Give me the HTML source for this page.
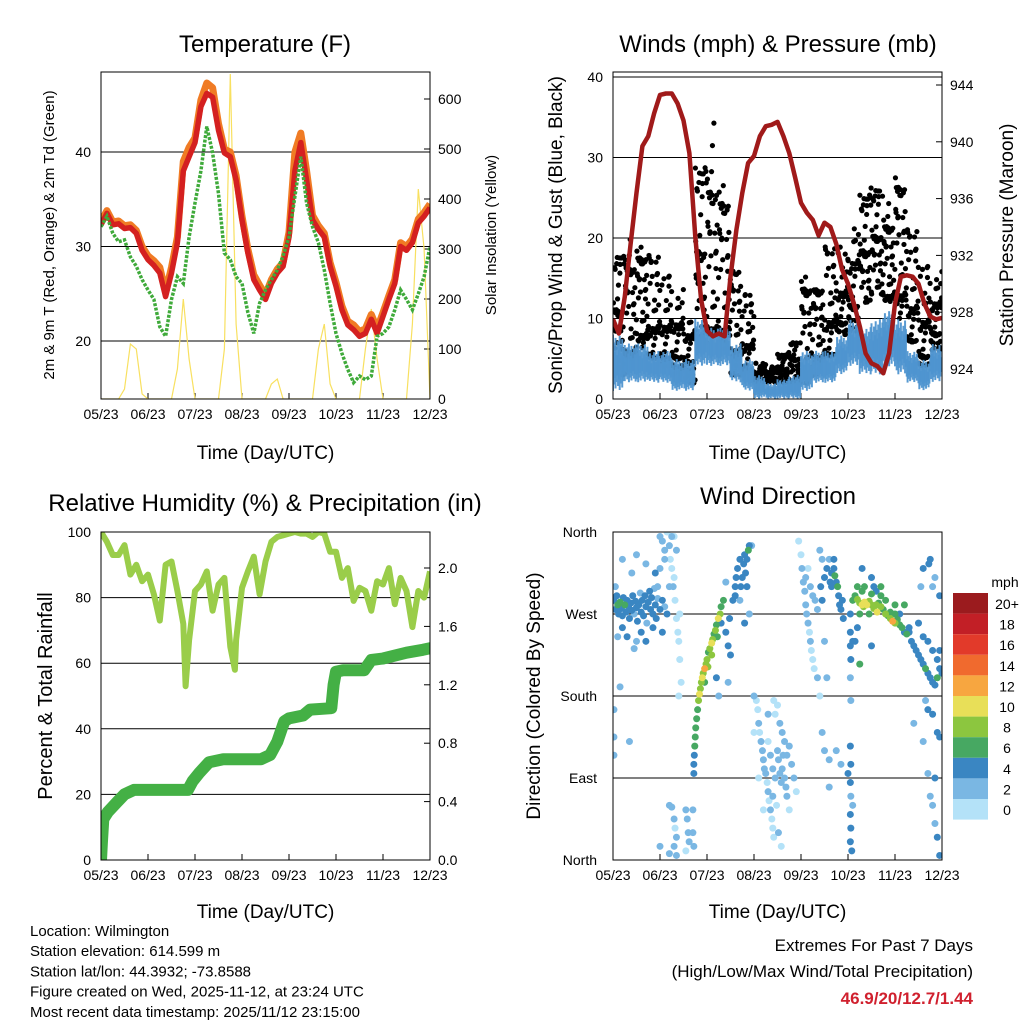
<!DOCTYPE html>
<html><head><meta charset="utf-8"><style>
body{margin:0;background:#fff}
svg{display:block;font-family:"Liberation Sans",sans-serif}
</style></head><body>
<svg id="c" width="1024" height="1024" viewBox="0 0 1024 1024" xmlns="http://www.w3.org/2000/svg"></svg>
<script>
// ---------- data ----------
const dayLabels=["05/23","06/23","07/23","08/23","09/23","10/23","11/23","12/23"];
const tempRed=[32.3,33.5,32.3,32.4,31.9,32,31.4,29.6,28.6,28,27.2,24.7,27.2,30.4,38,39.5,41,44.8,46.2,45.8,42.3,39.9,39.5,37,32.8,29.3,26.5,25.4,24.4,26.1,27.2,27.9,31,38,41,37,32.8,31.8,31,27.9,25.8,23.3,21.7,21.2,20.5,20.8,22.3,20.8,22.6,24.4,26.1,30,29.6,30.4,32.5,33.2,34.1];
const tempOrange=[32.6,33.8,32.6,32.7,32.2,32.3,31.7,30,29,28.5,27.8,25.2,27.8,31,39,40.5,41.5,45.5,47.3,46.8,43,40.3,40,37.5,33.2,29.7,27,25.9,24.9,26.5,27.6,28.3,31.5,40,42,38,33.3,32.2,31.4,28.3,26.2,23.7,22.1,21.7,21,21.3,22.8,21.3,23,24.8,26.5,30.4,30,30.8,32.9,33.6,34.5];
const dewGreen=[32.1,33.2,31.4,30.5,30.7,28.9,27.9,26.5,25.4,24.4,21.5,20.5,24.4,26.8,26.1,31,34.6,38,42.7,39.9,35.6,29.3,28.6,26.8,26.1,23,20.8,24,25.4,26.5,27.5,29,31,35.3,39.5,34.6,32.1,30.4,27.5,24,20.8,18.7,17,15.6,16.3,15.9,16.3,20.5,20.8,21.5,23.3,25.4,24.4,23.3,25,26.8,30];
const solar=[0,0,0,0,20,110,100,10,0,0,0,0,0,60,200,80,0,0,0,0,0,100,650,150,0,0,0,0,0,30,40,0,0,0,0,0,0,100,150,30,0,0,0,0,0,100,180,80,0,0,0,0,0,150,420,300,0];
const pressure=[927.5,926.5,929.1,932.8,936.4,939.7,940.4,942,943.3,943.4,943.4,942.7,941.5,939.2,933.3,928.9,926.7,926.3,926.5,926.3,930.5,933.8,936.4,938.5,939,940.4,941.1,941.2,941.4,940.4,939.2,937.5,935.7,935,934.5,933.4,934.3,934,932.8,931,930,928.6,927,925.1,924.4,924.2,923.7,925.1,928.6,930.5,930.6,930.5,930,928.6,927.7,927.5,927.6];
const gustLo=[3,5,6,5,4,3,2,7,8,6,3,3,2,2,2,2,2,3,5,8,8,12,13,12,10,7,4,6];
const gustHi=[18,21,19,19,16,14,10,30,35,28,16,13,4.5,4,6,7,17,14,19,19,22,28,26,25,28,22,17,16];
const sonicLo=[1,2,2,2,2,1,1,4,4,4,2,1,0,0,0,0,1,2,2,3,4,3,3,4,3,2,1,2];
const sonicHi=[8,7,7,6,6,5,5,10,9,9,7,5,3,2,2.5,3,6,6,6,8,10,9,10,11,10,6,5,7];
const rhT=[0,0.125,0.25,0.375,0.5,0.625,0.75,0.875,1,1.125,1.25,1.375,1.5,1.625,1.75,1.8,1.875,2,2.125,2.25,2.375,2.5,2.625,2.75,2.85,2.875,3,3.125,3.25,3.375,3.5,3.625,3.75,3.875,4,4.125,4.25,4.375,4.5,4.625,4.75,4.875,5,5.125,5.25,5.375,5.5,5.625,5.75,5.875,6,6.125,6.25,6.375,6.5,6.625,6.75,6.875,7];
const rh=[100,97,93,93,96,87,90,85,87,81,73,90,91,82,72,53,67,82,84,88,76,84,86,65,58,67,83,88,92.5,81,91,97,98.5,99,99.5,100,99.5,99.5,98.5,100,99.5,94,94,86,89,79,83,82,76,85,84,89,78,86,82,71,82,80,88];
const precipT=[0,0.02,0.05,0.15,0.35,0.5,0.7,1,1.5,1.85,1.95,2.1,2.3,2.6,3,3.4,3.6,3.75,3.9,4,4.3,4.45,4.9,4.95,5,5.15,5.6,5.75,6,6.5,6.85,7];
const precipV=[0,0.12,0.28,0.33,0.4,0.45,0.48,0.48,0.48,0.48,0.54,0.6,0.67,0.69,0.69,0.69,0.72,0.81,0.95,0.97,0.99,1.03,1.04,1.2,1.29,1.3,1.3,1.37,1.38,1.42,1.44,1.45];
// wind direction observations: [day, degrees, mph]
const dirObs=[
[0.02,285,4],[0.05,275,5],[0.08,290,4],[0.1,280,6],[0.12,270,5],[0.15,283,7],[0.18,276,5],[0.2,268,4],[0.22,288,5],[0.25,280,6],[0.28,272,4],[0.3,285,5],[0.33,278,4],[0.35,265,4],[0.38,282,5],[0.4,274,4],[0.42,290,4],[0.45,270,3],[0.48,284,4],[0.5,277,5],[0.52,262,4],[0.55,280,4],[0.58,293,3],[0.6,272,4],[0.62,285,4],[0.65,268,5],[0.68,290,4],[0.7,278,4],[0.72,260,3],[0.75,283,4],[0.78,295,4],[0.8,275,5],[0.82,288,4],[0.85,270,4],[0.88,298,3],[0.9,280,4],[0.92,265,4],[0.95,287,3],[1.0,275,5],[1.05,285,4],[1.1,278,3],[1.15,270,4],[0.05,300,2],[0.1,245,3],[0.2,255,4],[0.3,245,4],[0.45,232,3],[0.6,250,4],[0.7,240,4],[0.85,255,4],[0.95,300,3],[1.0,320,3],[0.4,315,2],[0.7,325,3],[0.2,330,2],[0.5,335,3],[0.15,190,3],[0.5,240,3],[0.9,315,4],[1.1,330,2],[1.05,250,4],[0.02,165,2],[0.02,135,2],[0.02,115,2],[0.35,130,2],
[1.0,355,2],[1.05,350,2],[1.1,340,2],[1.15,360,1],[1.2,345,2],[1.22,330,1],[1.25,320,1],[1.28,300,2],[1.3,310,1],[1.32,285,1],[1.35,265,1],[1.38,250,1],[1.4,240,1],[1.42,220,1],[1.35,340,2],[1.25,355,2],[1.3,355,1],[1.2,300,2],[1.42,270,1],[1.45,195,1],[1.4,180,1],[1.2,60,2],[1.25,58,2],[1.3,45,2],[1.32,35,1],[1.35,25,2],[1.3,15,2],[1.35,5,2],[1.0,15,3],[1.55,55,2],[1.58,45,2],[1.6,30,2],[1.62,20,2],[1.55,10,1],[1.2,7,2],[1.7,30,2],[1.72,15,3],[1.7,55,3],
[1.72,95,4],[1.72,105,4],[1.73,115,4],[1.74,125,6],[1.75,135,6],[1.76,145,6],[1.78,155,7],[1.8,165,7],[1.82,175,8],[1.84,182,10],[1.86,188,9],[1.88,195,8],[1.9,200,10],[1.92,205,8],[1.95,210,12],[1.98,215,9],[2.0,220,8],[2.03,228,7],[2.06,232,9],[2.1,238,10],[2.12,242,8],[2.15,248,7],[2.18,252,8],[2.2,258,7],[2.24,265,10],[2.28,270,8],[2.3,278,7],[2.35,285,6],[2.02,212,8],[1.95,195,7],[2.1,225,8],[2.22,245,6],[2.3,260,5],[2.4,250,4],[2.45,235,5],[2.5,225,4],[2.48,265,4],[2.55,285,4],[2.6,300,4],[2.62,310,5],[2.65,320,5],[2.7,330,4],[2.72,300,4],[2.75,310,5],[2.78,325,4],[2.8,335,5],[2.82,315,4],[2.85,330,4],[2.88,340,6],[2.9,345,4],[2.85,300,4],[2.6,290,5],[2.7,285,3],[2.8,260,4],[2.9,270,3],[2.95,345,2],[2.4,305,3],[2.2,200,4],[2.25,180,3],[2.45,195,3],
[3.0,180,2],[3.05,175,1],[3.08,165,1],[3.1,150,2],[3.12,140,1],[3.15,130,2],[3.18,120,2],[3.2,110,2],[3.22,100,3],[3.25,95,2],[3.28,85,1],[3.3,75,2],[3.32,65,1],[3.35,55,2],[3.38,45,1],[3.4,35,1],[3.42,25,1],[3.3,130,1],[3.35,115,2],[3.4,100,2],[3.45,90,3],[3.5,120,2],[3.52,110,2],[3.55,95,2],[3.58,85,3],[3.6,100,2],[3.62,115,3],[3.65,90,2],[3.68,80,2],[3.7,70,2],[3.5,170,1],[3.55,150,2],[3.6,140,2],[3.45,160,1],[3.48,60,1],[3.52,30,2],[3.58,15,1],[3.42,175,1],[3.75,125,2],[3.8,105,2],[3.85,90,2],[3.9,75,1],[3.75,55,1],[3.2,55,1],[3.3,160,2],[3.4,70,2],[3.65,130,3],[3.7,115,3],[3.1,90,1],[3.0,140,1],
[3.95,350,1],[4.0,335,1],[4.02,320,2],[4.05,305,2],[4.08,295,2],[4.1,280,2],[4.12,270,2],[4.15,260,2],[4.18,250,1],[4.2,240,2],[4.22,230,1],[4.25,220,1],[4.28,210,1],[4.1,310,2],[4.15,320,1],[4.2,300,2],[4.25,290,2],[4.3,285,2],[4.35,275,3],[4.4,340,2],[4.45,330,2],[4.42,300,4],[4.45,285,4],[4.5,310,4],[4.55,320,4],[4.6,330,3],[4.62,305,4],[4.65,315,4],[4.35,200,2],[4.4,180,1],[4.5,240,3],[4.55,200,2],[4.45,140,2],[4.5,120,2],[4.6,110,3],[4.6,80,2],[4.75,120,3],[4.85,105,3],
[4.7,320,5],[4.72,312,6],[4.75,305,5],[4.78,300,6],[4.8,290,5],[4.82,280,4],[4.85,275,4],[4.88,285,5],[4.7,330,4],[4.65,300,4],[4.9,265,5],
[5.05,270,4],[5.05,250,4],[5.05,235,4],[5.06,220,4],[5.05,200,3],[5.06,175,3],[5.05,125,4],[5.06,105,4],[5.05,85,4],[5.06,70,3],[5.05,50,4],[5.06,35,4],[5.05,20,4],[5.08,10,4],[5.1,60,3],[5.0,95,4],[5.1,240,4],
[5.1,285,6],[5.15,290,7],[5.2,286,8],[5.25,282,8],[5.3,280,10],[5.33,278,9],[5.35,283,11],[5.4,280,10],[5.45,284,8],[5.5,280,8],[5.55,276,9],[5.6,280,8],[5.62,272,10],[5.65,282,7],[5.7,278,8],[5.75,275,7],[5.8,270,8],[5.85,268,7],[5.9,265,9],[5.95,262,12],[6.0,260,8],[6.05,264,7],[6.1,258,6],[6.15,255,6],[6.2,250,5],[6.25,248,6],[6.3,255,5],[5.3,295,6],[5.5,292,7],[5.7,290,6],[5.9,272,6],[6.0,270,7],[5.25,270,6],[5.45,270,6],[5.2,300,6],[5.35,300,6],[5.6,295,5],[5.8,285,6],[6.1,270,5],[5.15,240,4],[5.25,215,6],[5.5,235,4],[5.55,300,5],[5.2,255,4],[5.3,320,4],[5.5,310,5],[5.7,300,6],[6.0,280,6],[6.2,280,6],
[6.3,250,4],[6.35,240,4],[6.4,235,5],[6.45,230,4],[6.5,225,4],[6.55,220,5],[6.6,215,4],[6.65,210,6],[6.7,205,4],[6.75,200,5],[6.8,195,4],[6.85,192,4],[6.9,200,6],[6.95,210,5],[7.0,205,4],[6.5,260,4],[6.6,245,4],[6.7,240,5],[6.8,230,4],[6.9,220,5],[6.95,230,4],[6.75,330,4],[6.72,325,4],[6.8,300,3],[6.55,300,3],[6.85,310,2],[6.6,320,4],[6.95,290,4],[6.65,175,2],[6.7,165,4],[6.8,160,4],[6.9,140,4],[6.95,135,4],[6.7,95,2],[6.75,70,3],[6.8,60,3],[6.85,40,3],[6.9,25,4],[6.95,5,4],[6.85,90,4],[6.4,150,3],[6.6,130,2]
];
const dirT=dirObs.map(p=>p[0]);
const dirD=dirObs.map(p=>p[1]);
const dirS=dirObs.map(p=>p[2]);
const speedLabels=["20+","18","16","14","12","10","8","6","4","2","0"];
const speedColors=["#9b1b1e","#c21f26","#e23a2a","#f06a2e","#f7a640","#e8df58","#8cc63f","#47a862","#3a86c2","#7ab7e3","#b4e2f8"];

// ---------- helpers ----------
const svg=document.getElementById('c');
const NS="http://www.w3.org/2000/svg";
function el(tag,attrs,parent){const e=document.createElementNS(NS,tag);for(const k in attrs)e.setAttribute(k,attrs[k]);(parent||svg).appendChild(e);return e;}
function txt(s,x,y,size,anchor,parent,extra){const t=el('text',Object.assign({x:x,y:y,'font-size':size,'text-anchor':anchor||'middle',fill:'#000'},extra||{}),parent);t.textContent=s;return t;}
function lin(x0,x1,v0,v1){return v=>x0+(v-v0)*(x1-x0)/(v1-v0);}
function colorFor(s){let i=Math.min(10,Math.floor(s/2));return speedColors[10-i];}
function frame(g,L,T,R,B){el('rect',{x:L,y:T,width:R-L,height:B-T,fill:'none',stroke:'#000','stroke-width':1},g);}
function xAxis(g,L,R,B,y){
  const xs=lin(L,R,0,7);
  dayLabels.forEach((d,i)=>{
    const x=xs(i);
    el('line',{x1:x,y1:B,x2:x,y2:B-6,stroke:'#000'},g);
    const t=txt(d,x,B+20,14,'middle',g);
    
    
  });
  const at=txt("Time (Day/UTC)",(L+R)/2,y,19,'middle',g);
  
  
  return xs;
}
function clipFor(id,L,T,R,B){const cp=el('clipPath',{id:id});el('rect',{x:L,y:T,width:R-L,height:B-T},cp);return 'url(#'+id+')';}
function pathFrom(xs,ys,xv,yv){return xv.map((t,i)=>(i?'L':'M')+xs(t).toFixed(1)+','+ys(yv[i]).toFixed(1)).join('');}
const step=(n,s)=>Array.from({length:n},(_,i)=>i*s);

// ================= Panel 1: Temperature =================
{
const g=el('g',{});


const L=101,R=430,T=72,B=399;
const ys=lin(341,152,20,40), ysol=lin(399,349,0,100);
const cl=clipFor('c1',L,T,R,B);
const title=txt("Temperature (F)",265,52,24,'middle',g);

[20,30,40].forEach(v=>{el('line',{x1:L,x2:R,y1:ys(v),y2:ys(v),stroke:'#000'},g);const t=txt(v,L-10,ys(v)+5,14,'end',g);});
[0,100,200,300,400,500,600].forEach(v=>{el('line',{x1:R,x2:R-6,y1:ysol(v),y2:ysol(v),stroke:'#000'},g);const t=txt(v,R+8,ysol(v)+5,14,'start',g);});
const xs=xAxis(g,L,R,B,459);
const tq=step(57,0.125);
const sol=el('path',{d:pathFrom(xs,ysol,step(solar.length,0.125),solar),fill:'none',stroke:'#f8e060','stroke-width':1.2,'clip-path':cl},g);

const or=el('path',{d:pathFrom(xs,ys,tq,tempOrange),fill:'none',stroke:'#f07b24','stroke-width':7,'stroke-linejoin':'round','clip-path':cl},g);

const rd=el('path',{d:pathFrom(xs,ys,tq,tempRed),fill:'none',stroke:'#d42020','stroke-width':5.5,'stroke-linejoin':'round','clip-path':cl},g);

const gr=el('path',{d:pathFrom(xs,ys,tq,dewGreen),fill:'none',stroke:'#3faa3a','stroke-width':3.5,'stroke-dasharray':'3 1.5','clip-path':cl},g);

frame(g,L,T,R,B);
const yl=txt("2m & 9m T (Red, Orange) & 2m Td (Green)",0,0,15,'middle',g,{transform:'translate(54,235) rotate(-90)'});

const yr=txt("Solar Insolation (Yellow)",0,0,15,'middle',g,{transform:'translate(496,235) rotate(-90)'});

}

// ================= Panel 2: Winds & Pressure =================
{
const g=el('g',{});


const L=613,R=942,T=72,B=399;
const ys=lin(399,77,0,40), yp=lin(369,85,924,944);
const cl=clipFor('c2',L,T,R,B);
const title=txt("Winds (mph) & Pressure (mb)",778,52,24,'middle',g);

[0,10,20,30,40].forEach(v=>{el('line',{x1:L,x2:R,y1:ys(v),y2:ys(v),stroke:'#000'},g);const t=txt(v,L-10,ys(v)+5,14,'end',g);});
[924,928,932,936,940,944].forEach(v=>{el('line',{x1:R,x2:R-6,y1:yp(v),y2:yp(v),stroke:'#000'},g);const t=txt(v,R+8,yp(v)+5,14,'start',g);});
const xs=xAxis(g,L,R,B,459);
const gg=el('g',{'clip-path':cl},g);

gustLo.forEach((lo,i)=>{
  const hi=gustHi[i];
  for(let k=0;k<40;k++){
    const f=(k*0.618034+i*0.137+k*k*0.0731)%1, f2=Math.pow(f,1.4);
    const fx=(k+0.5)/40;
    el('circle',{cx:xs(i*0.25+fx*0.25),cy:ys(lo+f2*(hi-lo)),r:2.6,fill:'#000'},gg);
  }
});
const sg=el('g',{'clip-path':cl},g);

sonicLo.forEach((lo,i)=>{
  const hi=sonicHi[i];
  for(let k=0;k<14;k++){
    const f=((k+i*3)*0.382)%1, a=lo+f*(hi-lo)*0.3, b=hi-f*(hi-lo)*0.4;
    const x=xs(i*0.25+k/14*0.25);
    el('line',{x1:x,x2:x,y1:ys(a),y2:ys(b),stroke:'#4f95d0','stroke-width':2,'stroke-opacity':0.95},sg);
  }
});
const pr=el('path',{d:pathFrom(xs,yp,step(57,0.125),pressure),fill:'none',stroke:'#a01a1a','stroke-width':4.5,'stroke-linejoin':'round','clip-path':cl},g);

frame(g,L,T,R,B);
const yl=txt("Sonic/Prop Wind & Gust (Blue, Black)",0,0,19,'middle',g,{transform:'translate(562,235) rotate(-90)'});

const yr=txt("Station Pressure (Maroon)",0,0,19,'middle',g,{transform:'translate(1013,235) rotate(-90)'});

}

// ================= Panel 3: RH & Precip =================
{
const g=el('g',{});


const L=101,R=430,T=532,B=860;
const ys=lin(860,532,0,100), yr=lin(860,568,0,2.0);
const cl=clipFor('c3',L,T,R,B);
const title=txt("Relative Humidity (%) & Precipitation (in)",265,511,24,'middle',g);

[0,20,40,60,80,100].forEach(v=>{if(v>0&&v<100)el('line',{x1:L,x2:R,y1:ys(v),y2:ys(v),stroke:'#000'},g);const t=txt(v,L-10,ys(v)+5,14,'end',g);});
[0,0.4,0.8,1.2,1.6,2.0].forEach(v=>{el('line',{x1:R,x2:R-6,y1:yr(v),y2:yr(v),stroke:'#000'},g);const t=txt(v.toFixed(1),R+8,yr(v)+5,14,'start',g);});
const xs=xAxis(g,L,R,B,918);
const rl=el('path',{d:pathFrom(xs,ys,rhT,rh),fill:'none',stroke:'#9acd4a','stroke-width':6,'stroke-linejoin':'round','clip-path':cl},g);

const pl=el('path',{d:pathFrom(xs,yr,precipT,precipV),fill:'none',stroke:'#44b045','stroke-width':12,'stroke-linejoin':'round','stroke-linecap':'round','clip-path':cl},g);

frame(g,L,T,R,B);
const yl=txt("Percent & Total Rainfall",0,0,20,'middle',g,{transform:'translate(52,696) rotate(-90)'});

}

// ================= Panel 4: Wind Direction =================
{
const g=el('g',{});


const L=613,R=942,T=532,B=860;
const ys=lin(860,532,0,360);
const cl=clipFor('c4',L,T,R,B);
const title=txt("Wind Direction",778,504,24,'middle',g);

const dl=["North","East","South","West","North"];
dl.forEach((d,i)=>{const v=i*90;if(i>0&&i<4)el('line',{x1:L,x2:R,y1:ys(v),y2:ys(v),stroke:'#000'},g);const t=txt(d,L-16,ys(v)+5,14,'end',g);});
const xs=xAxis(g,L,R,B,918);
const pg=el('g',{'clip-path':cl},g);

const order=dirT.map((_,i)=>i).sort((a,b)=>dirS[a]-dirS[b]);
order.forEach(i=>{
  el('circle',{cx:xs(dirT[i]),cy:ys(dirD[i]),r:3.5,fill:colorFor(dirS[i])},pg);
});
frame(g,L,T,R,B);
const yl=txt("Direction (Colored By Speed)",0,0,19,'middle',g,{transform:'translate(540,696) rotate(-90)'});

const cb=el('g',{},g);

txt("mph",1005,587,14,'middle',cb);
speedLabels.forEach((s,i)=>{
  const y=593+i*20.6;
  el('rect',{x:953,y:y,width:35,height:20.6,fill:speedColors[i]},cb);
  const t=txt(s,1007,y+16,14,'middle',cb);
  
});
}

// ================= Footer text =================
{
const g=el('g',{});

["Location: Wilmington","Station elevation: 614.599 m","Station lat/lon: 44.3932; -73.8588","Figure created on Wed, 2025-11-12, at 23:24 UTC","Most recent data timestamp: 2025/11/12 23:15:00"].forEach((s,i)=>{txt(s,30,936+i*20.2,15,'start',g);});
const e=el('g',{});

txt("Extremes For Past 7 Days",973,951,17,'end',e);
txt("(High/Low/Max Wind/Total Precipitation)",973,977,17,'end',e);
txt("46.9/20/12.7/1.44",973,1004,17,'end',e,{fill:'#d0202e','font-weight':'bold'});
}
</script>
</body></html>
